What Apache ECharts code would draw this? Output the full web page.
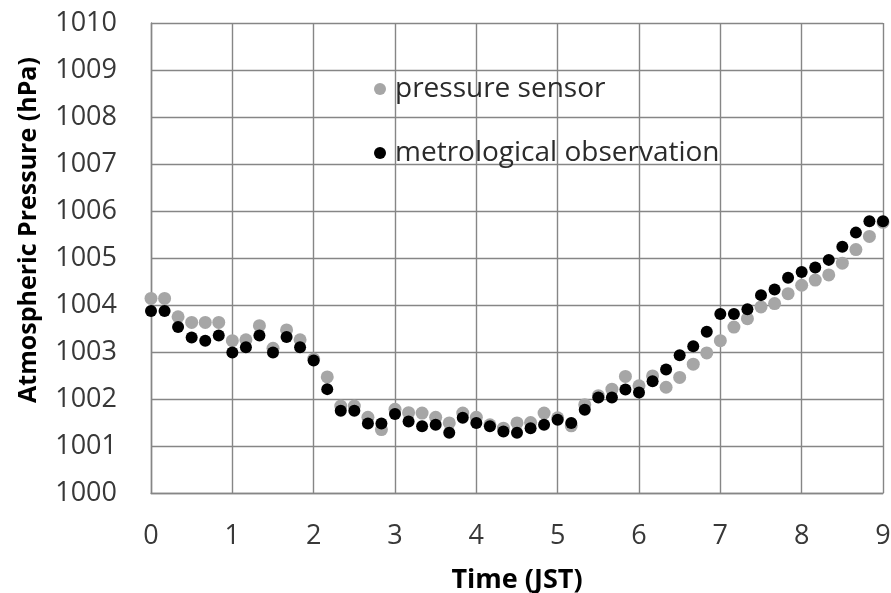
<!DOCTYPE html>
<html>
<head>
<meta charset="utf-8">
<script src="https://cdn.jsdelivr.net/npm/echarts@6/dist/echarts.min.js"></script>
<style>
html,body{margin:0;padding:0;background:#fff;}
#chart{width:891px;height:593px;}
</style>
</head>
<body>
<div id="chart"></div>
<script>
// Time (JST), hours, 10-minute samples
var timeHours = [0, 0.167, 0.333, 0.5, 0.667, 0.833, 1, 1.167, 1.333, 1.5, 1.667, 1.833,
  2, 2.167, 2.333, 2.5, 2.667, 2.833, 3, 3.167, 3.333, 3.5, 3.667, 3.833,
  4, 4.167, 4.333, 4.5, 4.667, 4.833, 5, 5.167, 5.333, 5.5, 5.667, 5.833,
  6, 6.167, 6.333, 6.5, 6.667, 6.833, 7, 7.167, 7.333, 7.5, 7.667, 7.833,
  8, 8.167, 8.333, 8.5, 8.667, 8.833, 9];

var sensorPressure = [1004.14, 1004.14, 1003.75, 1003.63, 1003.63, 1003.63, 1003.24, 1003.26, 1003.56, 1003.08, 1003.47, 1003.26,
  1002.85, 1002.47, 1001.85, 1001.85, 1001.61, 1001.35, 1001.78, 1001.71, 1001.70, 1001.61, 1001.49, 1001.70,
  1001.61, 1001.45, 1001.38, 1001.49, 1001.50, 1001.70, 1001.60, 1001.43, 1001.88, 1002.07, 1002.21, 1002.48,
  1002.28, 1002.49, 1002.25, 1002.46, 1002.74, 1002.98, 1003.24, 1003.53, 1003.71, 1003.96, 1004.03, 1004.24,
  1004.42, 1004.53, 1004.64, 1004.89, 1005.18, 1005.46, 1005.76];

var observedPressure = [1003.87, 1003.87, 1003.53, 1003.31, 1003.24, 1003.35, 1002.99, 1003.10, 1003.35, 1002.99, 1003.32, 1003.10,
  1002.82, 1002.21, 1001.75, 1001.75, 1001.48, 1001.48, 1001.68, 1001.52, 1001.42, 1001.45, 1001.28, 1001.60,
  1001.49, 1001.42, 1001.31, 1001.28, 1001.38, 1001.45, 1001.56, 1001.49, 1001.77, 1002.03, 1002.03, 1002.20,
  1002.14, 1002.38, 1002.63, 1002.93, 1003.12, 1003.43, 1003.81, 1003.81, 1003.91, 1004.21, 1004.33, 1004.58,
  1004.70, 1004.80, 1004.96, 1005.24, 1005.54, 1005.78, 1005.78];

var seriesNames = ['pressure sensor', 'metrological observation'];

function pairs(vals) {
  return timeHours.map(function (t, i) { return [t, vals[i]]; });
}

var chart = echarts.init(document.getElementById('chart'), null, {renderer: 'canvas'});
var gridColor = '#868686';
chart.setOption({
  animation: false,
  backgroundColor: '#ffffff',
  grid: {left: 151, right: 8, top: 23, bottom: 100, containLabel: false, outerBoundsMode: 'none'},
  legend: {
    orient: 'vertical',
    left: 369,
    top: 70,
    itemGap: 36,
    itemWidth: 12,
    itemHeight: 12,
    icon: 'circle',
    textStyle: {fontFamily: 'Open Sans', fontSize: 28, color: '#2b2b2b', padding: [0, 0, 0, 4]},
    data: [
      {name: seriesNames[0], itemStyle: {color: '#a6a6a6'}},
      {name: seriesNames[1], itemStyle: {color: '#000000'}}
    ]
  },
  xAxis: {
    type: 'value', min: 0, max: 9, interval: 1,
    name: 'Time (JST)', nameLocation: 'middle', nameGap: 74,
    nameTextStyle: {fontFamily: 'Open Sans', fontWeight: 'bold', fontSize: 27, color: '#000'},
    axisLine: {show: true, lineStyle: {color: gridColor, width: 1.4}},
    axisTick: {show: false},
    axisLabel: {fontFamily: 'Open Sans', fontSize: 27, color: '#383838', margin: 30},
    splitLine: {show: true, lineStyle: {color: gridColor, width: 1.4}}
  },
  yAxis: {
    type: 'value', min: 1000, max: 1010, interval: 1,
    name: 'Atmospheric Pressure (hPa)', nameLocation: 'middle', nameGap: 110,
    nameTextStyle: {fontFamily: 'Open Sans', fontWeight: 'bold', fontSize: 25, color: '#000', padding: [0, 0, 0, 56]},
    axisLine: {show: true, lineStyle: {color: gridColor, width: 1.4}},
    axisTick: {show: false},
    axisLabel: {fontFamily: 'Open Sans', fontSize: 27, color: '#383838', margin: 34,
      formatter: function (v) { return String(v); }},
    splitLine: {show: true, lineStyle: {color: gridColor, width: 1.4}}
  },
  series: [
    {
      name: seriesNames[0], type: 'scatter', symbol: 'circle', symbolSize: 13,
      itemStyle: {color: '#a6a6a6', opacity: 1},
      data: pairs(sensorPressure), z: 2
    },
    {
      name: seriesNames[1], type: 'scatter', symbol: 'circle', symbolSize: 12,
      itemStyle: {color: '#000000', opacity: 1},
      data: pairs(observedPressure), z: 3
    }
  ]
});
</script>
</body>
</html>
